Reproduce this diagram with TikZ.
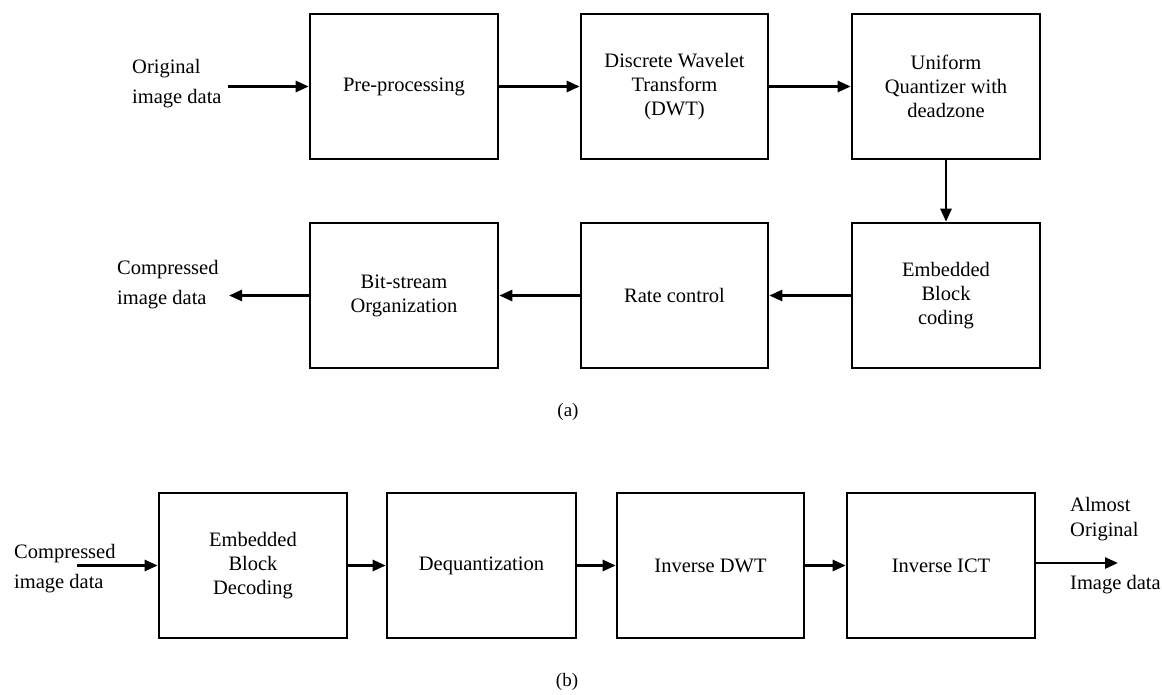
\documentclass[tikz,border=0pt]{standalone}
\usepackage{fontspec}
\setmainfont{Liberation Serif}
\usetikzlibrary{arrows.meta}
\begin{document}
\begin{tikzpicture}[x=1pt,y=-1pt,
  blk/.style={draw, line width=2.6pt, minimum height=145pt, align=center, inner sep=0pt,
    font=\fontsize{20.5}{24}\selectfont},
  lbl/.style={align=left, inner sep=0pt, font=\fontsize{20.5}{30}\selectfont},
  captxt/.style={inner sep=0pt, font=\fontsize{19}{21}\selectfont},
  arr/.style={line width=2.6pt, -{Triangle[length=13pt,width=11pt]}}]
\useasboundingbox[fill=white] (0,0) rectangle (1162,694);
% (a)
\node[blk, minimum width=188pt] (pre) at (404,86.5) {Pre-processing};
\node[blk, minimum width=187pt] (dwt) at (674.5,86.5) {Discrete Wavelet\\Transform\\(DWT)};
\node[blk, minimum width=188pt] (qnt) at (946,86.5) {Uniform\\Quantizer with\\deadzone};
\node[blk, minimum width=188pt] (ebc) at (946,295.5) {Embedded\\Block\\coding};
\node[blk, minimum width=187pt] (rate) at (674.5,295.5) {Rate control};
\node[blk, minimum width=188pt] (bit) at (404,295.5) {Bit-stream\\Organization};
\node[lbl, anchor=west] (inA) at (132,84) {Original\\image data};
\node[lbl, anchor=west] (outA) at (117,285) {Compressed\\image data};
\coordinate (inAend) at (228,86.5);
\coordinate (outAend) at (229,295.5);
\draw[arr] (inAend) -- (pre.west);
\draw[arr] (pre.east) -- (dwt.west);
\draw[arr] (dwt.east) -- (qnt.west);
\draw[arr] (qnt.south) -- (ebc.north);
\draw[arr] (ebc.west) -- (rate.east);
\draw[arr] (rate.west) -- (bit.east);
\draw[arr] (bit.west) -- (outAend);
\node[captxt] (capa) at (568,412) {(a)};
% (b)
\node[blk, minimum width=188pt] (ebd) at (253,565.5) {Embedded\\Block\\Decoding};
\node[blk, minimum width=189pt] (deq) at (481.5,565.5) {Dequantization};
\node[blk, minimum width=187pt] (idwt) at (710.5,565.5) {Inverse DWT};
\node[blk, minimum width=188pt] (iict) at (941,565.5) {Inverse ICT};
\node[lbl, anchor=west] (inB) at (14,569) {Compressed\\image data};
\node[lbl, anchor=west, font=\fontsize{20.5}{25}\selectfont] (outB1) at (1070,519) {Almost\\Original};
\node[lbl, anchor=west] (outB2) at (1070,585) {Image data};
\coordinate (inBstart) at (77,565.5);
\coordinate (outBend) at (1118,563);
\draw[arr] (inBstart) -- (ebd.west);
\draw[arr] (ebd.east) -- (deq.west);
\draw[arr] (deq.east) -- (idwt.west);
\draw[arr] (idwt.east) -- (iict.west);
\draw[arr] (iict.east |- outBend) -- (outBend);
\node[captxt] (capb) at (567,682) {(b)};
\end{tikzpicture}
\end{document}
